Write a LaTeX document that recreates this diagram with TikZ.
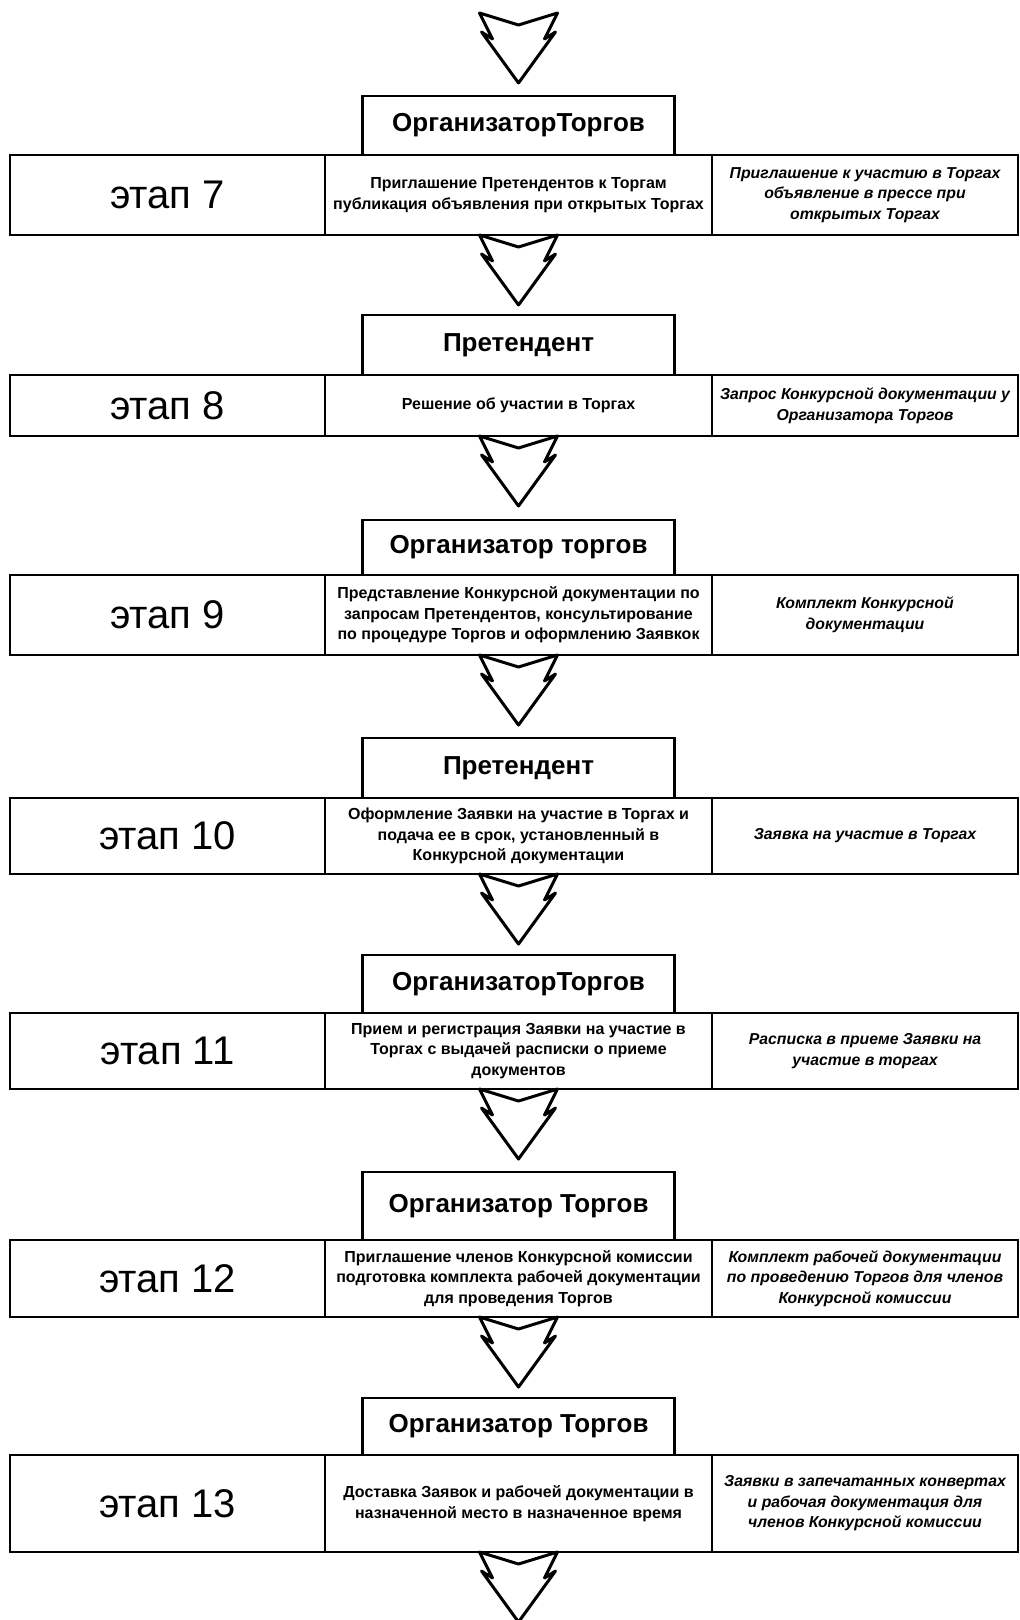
\documentclass[tikz,border=0pt]{standalone}
\usepackage{fontspec}
\setmainfont{Liberation Sans}
\usepackage{tikz}
\usetikzlibrary{positioning}
\tikzset{
  tgcell/.style={draw, line width=1.3pt, outer sep=0pt, inner sep=2pt},
  tghead/.style={draw, line width=1.3pt, outer sep=0pt, minimum width=156pt,
    font=\bfseries\fontsize{13}{15}\selectfont},
  tglabel/.style={font=\fontsize{20}{24}\selectfont},
  tgmid/.style={align=center, font=\bfseries\fontsize{8}{10.3}\selectfont},
  tgright/.style={align=center, font=\bfseries\itshape\fontsize{7.9}{10.3}\selectfont},
  tgarrow/.style={draw, fill=white, line width=1.5pt, line join=round},
}
\newcommand{\tgbolt}[1]{%
  \draw[tgarrow, shift={(#1)}] (-19.5,0) -- (0,6) -- (19.5,0) -- (13,13)
    -- (18.5,9.5) -- (0,35) -- (-18.5,9.5) -- (-13,13) -- cycle;}
\newcommand{\tgstage}[7]{%
  \node[tghead, anchor=south, minimum height=#4pt] (h#1) at (259.25,#2) {#5};
  \node[tgcell, tglabel, anchor=north west, minimum width=157.5pt,
    minimum height=#3pt] (e#1) at (5,#2) {этап #1};
  \node[tgcell, tgmid, anchor=north west, minimum width=193.5pt,
    minimum height=#3pt] (m#1) at (162.5,#2) {#6};
  \node[tgcell, tgright, anchor=north west, minimum width=153pt,
    minimum height=#3pt] (r#1) at (356,#2) {#7};}

\begin{document}
\begin{tikzpicture}[x=1pt, y=-1pt]
  \useasboundingbox (0,0) rectangle (510,810);
  \coordinate (start) at (259.25,6.5);
  \tgbolt{start}

  \tgstage{7}{77.5}{40}{29.5}{ОрганизаторТоргов}
    {Приглашение Претендентов к Торгам\\публикация объявления при открытых Торгах}
    {Приглашение к участию в Торгах\\объявление в прессе при\\открытых Торгах}
  \tgbolt{m7.south}
  \tgstage{8}{187.5}{30.5}{30}{Претендент}
    {Решение об участии в Торгах}
    {Запрос Конкурсной документации у\\Организатора Торгов}
  \tgbolt{m8.south}
  \tgstage{9}{287.5}{40}{27.5}{Организатор торгов}
    {Представление Конкурсной документации по\\запросам Претендентов, консультирование\\по процедуре Торгов и оформлению Заявкок}
    {Комплект Конкурсной\\документации}
  \tgbolt{m9.south}
  \tgstage{10}{399}{38}{30}{Претендент}
    {Оформление Заявки на участие в Торгах и\\подача ее в срок, установленный в\\Конкурсной документации}
    {Заявка на участие в Торгах}
  \tgbolt{m10.south}
  \tgstage{11}{506.5}{38}{29}{ОрганизаторТоргов}
    {Прием и регистрация Заявки на участие в\\Торгах с выдачей расписки о приеме\\документов}
    {Расписка в приеме Заявки на\\участие в торгах}
  \tgbolt{m11.south}
  \tgstage{12}{620}{38.5}{34}{Организатор Торгов}
    {Приглашение членов Конкурсной комиссии\\подготовка комплекта рабочей документации\\для проведения Торгов}
    {Комплект рабочей документации\\по проведению Торгов для членов\\Конкурсной комиссии}
  \tgbolt{m12.south}
  \tgstage{13}{727.5}{48.5}{28.5}{Организатор Торгов}
    {Доставка Заявок и рабочей документации в\\назначенной место в назначенное время}
    {Заявки в запечатанных конвертах\\и рабочая документация для\\членов Конкурсной комиссии}
  \tgbolt{m13.south}
\end{tikzpicture}
\end{document}
